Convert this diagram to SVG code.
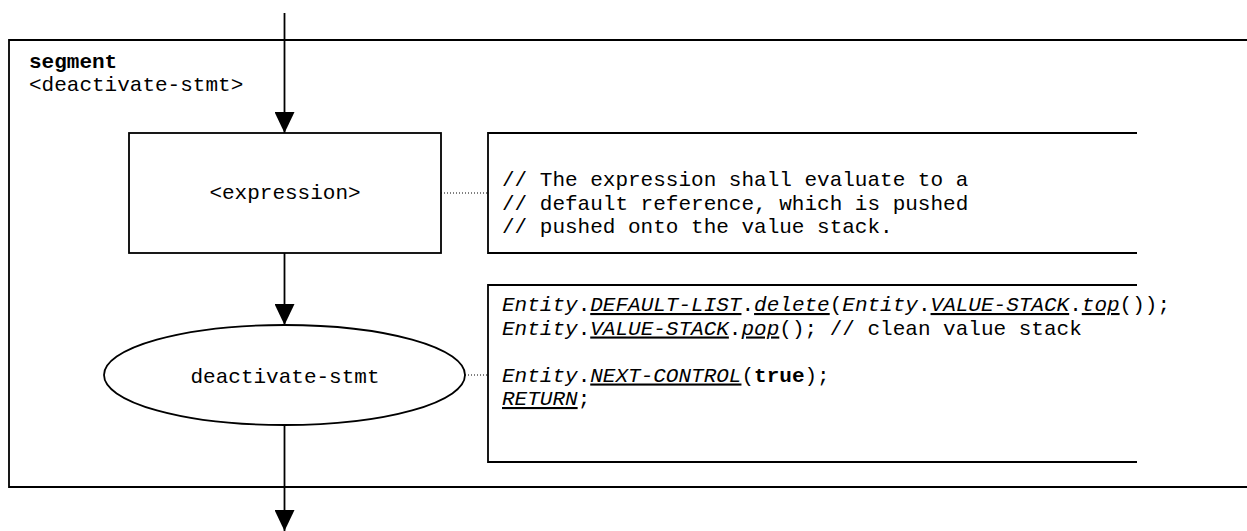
<svg xmlns="http://www.w3.org/2000/svg" width="1247" height="531" viewBox="0 0 1247 531">
<style>
.ln{fill:none;stroke:#000;stroke-width:1.8}
.dot{fill:none;stroke:#000;stroke-width:1;stroke-dasharray:1 2}
text{font-family:"Liberation Mono","Courier New",monospace;font-size:21px;fill:#000}
.i{font-style:italic}
.u{text-decoration:underline}
.b{font-weight:bold}
</style>
<defs>
<marker id="ah" markerWidth="21" markerHeight="20" refX="21" refY="10" orient="auto" markerUnits="userSpaceOnUse">
<path d="M0,0 L21,10 L0,20 Z" fill="#000"/>
</marker>
</defs>
<g id="segment">
<path class="ln" d="M1247,40 H9 V487 H1247"/>
<text x="29" y="68" class="b">segment</text>
<text x="29" y="91">&lt;deactivate-stmt&gt;</text>
</g>
<g id="expression">
<rect class="ln" x="129" y="133" width="312" height="120"/>
<text x="285" y="199" text-anchor="middle">&lt;expression&gt;</text>
</g>
<g id="comment1">
<path class="ln" d="M1137,133 H488 V253 H1137"/>
<text x="502" y="186">// The expression shall evaluate to a</text>
<text x="502" y="209.5">// default reference, which is pushed</text>
<text x="502" y="233">// pushed onto the value stack.</text>
</g>
<g id="deactivate-stmt">
<ellipse class="ln" cx="284.5" cy="375" rx="180.5" ry="50"/>
<text x="285" y="383" text-anchor="middle">deactivate-stmt</text>
</g>
<g id="comment2">
<path class="ln" d="M1137,285 H488 V462 H1137"/>
<text x="502" y="311"><tspan class="i">Entity</tspan>.<tspan class="i u">DEFAULT-LIST</tspan>.<tspan class="i u">delete</tspan>(<tspan class="i">Entity</tspan>.<tspan class="i u">VALUE-STACK</tspan>.<tspan class="i u">top</tspan>());</text>
<text x="502" y="334.5"><tspan class="i">Entity</tspan>.<tspan class="i u">VALUE-STACK</tspan>.<tspan class="i u">pop</tspan>(); // clean value stack</text>
<text x="502" y="381.5"><tspan class="i">Entity</tspan>.<tspan class="i u">NEXT-CONTROL</tspan>(<tspan class="b">true</tspan>);</text>
<text x="502" y="405"><tspan class="i u">RETURN</tspan>;</text>
</g>
<g id="connectors">
<line class="ln" x1="284.5" y1="13" x2="284.5" y2="133" marker-end="url(#ah)"/>
<line class="ln" x1="284.5" y1="253" x2="284.5" y2="325" marker-end="url(#ah)"/>
<line class="ln" x1="284.5" y1="425" x2="284.5" y2="531" marker-end="url(#ah)"/>
<line class="dot" x1="441" y1="193" x2="488" y2="193"/>
<line class="dot" x1="465" y1="375" x2="488" y2="375"/>
</g>
</svg>
